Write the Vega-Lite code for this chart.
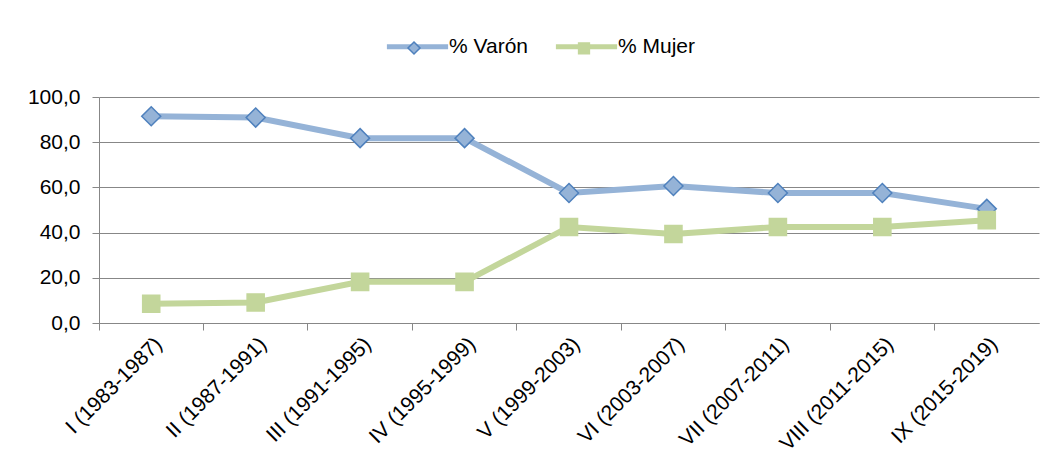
{
  "$schema": "https://vega.github.io/schema/vega-lite/v6.json",
  "description": "Porcentaje de varones y mujeres por legislatura.",
  "background": "white",
  "width": 940,
  "height": 226,
  "autosize": {"type": "none"},
  "padding": {"left": 99, "top": 97, "right": 16, "bottom": 149},
  "config": {
    "view": {"stroke": null},
    "font": "Liberation Sans",
    "axis": {"labelColor": "#000000", "labelFont": "Liberation Sans", "labelFontSize": 21}
  },
  "data": {
    "values": [
      {"periodo": "I (1983-1987)", "serie": "% Varón", "valor": 91.5},
      {"periodo": "II (1987-1991)", "serie": "% Varón", "valor": 90.9},
      {"periodo": "III (1991-1995)", "serie": "% Varón", "valor": 81.8},
      {"periodo": "IV (1995-1999)", "serie": "% Varón", "valor": 81.8},
      {"periodo": "V (1999-2003)", "serie": "% Varón", "valor": 57.5},
      {"periodo": "VI (2003-2007)", "serie": "% Varón", "valor": 60.6},
      {"periodo": "VII (2007-2011)", "serie": "% Varón", "valor": 57.5},
      {"periodo": "VIII (2011-2015)", "serie": "% Varón", "valor": 57.5},
      {"periodo": "IX (2015-2019)", "serie": "% Varón", "valor": 50.5},
      {"periodo": "I (1983-1987)", "serie": "% Mujer", "valor": 8.5},
      {"periodo": "II (1987-1991)", "serie": "% Mujer", "valor": 9.1},
      {"periodo": "III (1991-1995)", "serie": "% Mujer", "valor": 18.2},
      {"periodo": "IV (1995-1999)", "serie": "% Mujer", "valor": 18.2},
      {"periodo": "V (1999-2003)", "serie": "% Mujer", "valor": 42.5},
      {"periodo": "VI (2003-2007)", "serie": "% Mujer", "valor": 39.4},
      {"periodo": "VII (2007-2011)", "serie": "% Mujer", "valor": 42.5},
      {"periodo": "VIII (2011-2015)", "serie": "% Mujer", "valor": 42.5},
      {"periodo": "IX (2015-2019)", "serie": "% Mujer", "valor": 45.5}
    ]
  },
  "encoding": {
    "y": {
      "field": "valor",
      "type": "quantitative",
      "scale": {"domain": [0, 100], "nice": false},
      "axis": {
        "title": null,
        "values": [0, 20, 40, 60, 80, 100],
        "labelExpr": "replace(format(datum.value, '.1f'), '.', ',')",
        "grid": true,
        "gridColor": "#878787",
        "gridWidth": 1,
        "domainColor": "#878787",
        "tickColor": "#878787",
        "tickSize": 7,
        "labelPadding": 12
      }
    }
  },
  "layer": [
    {
      "mark": {"type": "line", "strokeWidth": 6},
      "encoding": {
        "x": {
          "field": "periodo",
          "type": "nominal",
          "sort": null,
          "scale": {"type": "band", "paddingInner": 0, "paddingOuter": 0},
          "axis": {
            "title": null,
            "orient": "bottom",
            "labels": false,
            "bandPosition": 0,
            "grid": false,
            "domainColor": "#878787",
            "tickColor": "#878787",
            "tickSize": 7
          }
        },
        "color": {
          "field": "serie",
          "type": "nominal",
          "sort": "descending",
          "scale": {"range": ["#95B3D7", "#C3D69B"]},
          "legend": {
            "title": null,
            "orient": "none",
            "direction": "horizontal",
            "legendX": 286,
            "legendY": -61,
            "symbolType": "M-5.1,0L5.1,0",
            "symbolSize": 144,
            "symbolStrokeWidth": 5,
            "symbolOffset": 22,
            "labelOffset": 21,
            "labelFontSize": 21,
            "labelColor": "#000000",
            "columnPadding": 17
          }
        }
      }
    },
    {
      "mark": {"type": "point", "filled": true, "size": 361, "strokeWidth": 1.5, "opacity": 1},
      "encoding": {
        "x": {
          "field": "periodo",
          "type": "nominal",
          "sort": null,
          "axis": {
            "title": null,
            "orient": "bottom",
            "ticks": false,
            "domain": false,
            "grid": false,
            "labelAngle": -45,
            "labelPadding": 10,
            "labelDx": -6
          }
        },
        "shape": {
          "field": "serie",
          "type": "nominal",
          "scale": {"domain": ["% Varón", "% Mujer"], "range": ["M0,-1L1,0L0,1L-1,0Z", "M-0.9,-0.9L0.9,-0.9L0.9,0.9L-0.9,0.9Z"]},
          "legend": {
            "title": null,
            "orient": "none",
            "direction": "horizontal",
            "legendX": 286,
            "legendY": -56,
            "symbolSize": 144,
            "symbolOffset": 22,
            "labelOffset": 21,
            "labelExpr": "''",
            "columnPadding": 113
          }
        },
        "fill": {
          "field": "serie",
          "type": "nominal",
          "scale": {"domain": ["% Varón", "% Mujer"], "range": ["#95B3D7", "#C3D69B"]}
        },
        "stroke": {
          "field": "serie",
          "type": "nominal",
          "scale": {"domain": ["% Varón", "% Mujer"], "range": ["#4F81BD", "#C3D69B"]}
        }
      }
    }
  ],
  "resolve": {"axis": {"x": "independent"}}
}
